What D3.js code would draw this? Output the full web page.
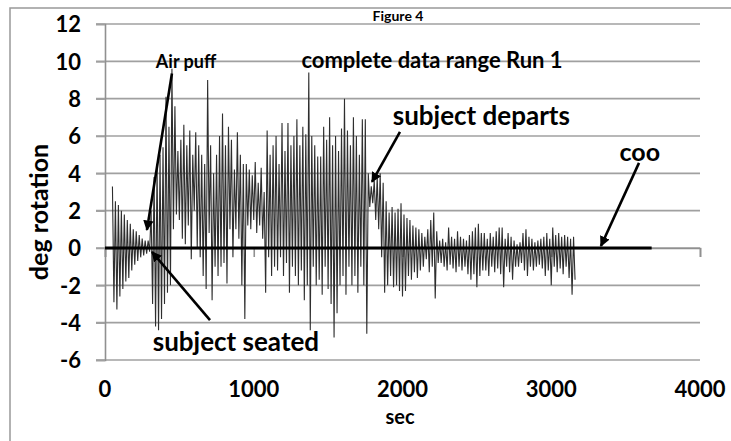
<!DOCTYPE html>
<html><head><meta charset="utf-8">
<script src="https://cdn.jsdelivr.net/npm/d3@7"></script>
<style>
html,body{margin:0;padding:0;background:#fff;}
svg text{font-family:Lato,"Open Sans",sans-serif;font-weight:bold;fill:#000;}
</style></head>
<body><svg id="c" width="731" height="441"></svg>
<script>
// ---- data ----
const yTicks = [-6,-4,-2,0,2,4,6,8,10,12];
const xTicks = [0,1000,2000,3000,4000];
const sampleStart = 50;   // sec of first sample
const sampleStep = 10;    // sec between samples
const rotation = [
 3.3,-2.9,2.5,-3.3,2.3,-2.6,2.0,-2.2,1.8,-1.8,
 1.5,-1.6,1.3,-1.2,1.0,-0.9,0.9,-0.7,0.7,-0.5,
 0.5,-0.4,0.4,-0.3,0.4,-0.2,2.0,-3.0,3.8,-4.2,
 4.5,-4.4,5.0,-3.8,5.4,-3.0,8.1,-2.4,6.5,-2.0,
 9.6,1.0,7.6,1.8,5.2,1.5,5.8,0.5,6.6,0.2,
 5.5,1.2,6.3,-0.6,5.0,2.0,6.2,0.0,5.5,-0.5,
 5.0,-1.5,4.5,-2.2,9.0,0.8,5.5,-2.8,4.0,-1.0,
 5.0,-1.5,6.0,-1.0,7.2,-0.8,5.5,-1.9,6.5,1.0,
 5.8,-0.5,4.2,1.0,6.2,0.5,5.0,-2.0,4.5,-3.8,
 4.5,1.2,4.2,1.0,3.9,1.5,4.6,0.8,3.5,1.2,
 4.3,0.5,3.0,-2.4,6.3,-0.5,5.0,-1.5,5.5,-1.0,
 6.0,-1.2,4.5,-0.5,6.7,-1.5,5.2,-0.8,6.7,-2.4,
 5.5,-1.0,6.0,-1.5,6.9,-2.0,5.5,-1.2,6.5,-2.8,
 6.1,-2.0,9.4,-4.4,6.0,-1.0,5.5,-2.0,4.9,-1.7,
 4.9,-2.5,6.5,-1.0,5.8,-2.2,7.0,-3.0,5.5,-4.8,
 6.0,-3.5,5.2,-2.0,6.4,-1.5,8.0,-2.5,6.3,-1.0,
 5.5,-2.0,7.0,-1.5,6.0,-2.4,5.0,-1.0,6.9,-2.0,
 6.9,-4.6,4.0,2.2,3.3,2.4,3.6,1.5,3.8,1.0,
 4.0,-0.5,3.5,-2.4,2.5,-2.0,1.9,-1.5,2.2,-2.1,
 1.9,-2.0,2.1,-2.3,2.4,-2.6,1.8,-2.3,1.6,-1.5,
 1.5,-1.7,1.2,-1.3,1.1,-1.6,1.0,-1.2,0.8,-1.0,
 0.6,-0.6,1.0,-1.3,1.5,-1.0,1.9,-2.7,0.9,-0.8,
 0.4,-0.8,0.5,-1.0,0.3,-1.2,1.1,-0.9,0.6,-1.1,
 0.5,-1.3,0.9,-1.0,0.6,-1.2,0.5,-1.0,0.4,-1.4,
 0.7,-1.7,0.9,-1.4,1.1,-2.1,1.3,-1.5,0.8,-1.2,
 0.8,-1.2,0.5,-1.5,0.8,-1.0,0.6,-1.3,0.9,-1.1,
 1.1,-1.4,1.1,-2.1,0.5,-1.0,0.8,-1.3,0.6,-1.7,
 0.4,-1.0,0.2,-1.0,0.3,-0.8,0.8,-1.2,1.0,-1.5,
 0.6,-1.0,0.5,-1.2,0.3,-1.0,0.4,-0.9,0.5,-1.1,
 0.6,-1.5,0.8,-1.2,0.5,-2.0,1.1,-1.0,0.7,-1.3,
 0.8,-1.1,0.6,-1.4,0.7,-1.0,0.6,-1.6,0.5,-2.5,
 0.6,-1.7
];
const cooSec = [0, 3675];
const cooVal = [0, 0];
const annotations = [
  {text:"Air puff", x:545, y:9.62, size:18, tail:[450,9.35], head:[282,0.97]},
  {text:"subject seated", x:880, y:-5.5, size:26, tail:[706,-3.86], head:[316,-0.21]},
  {text:"subject departs", x:2530, y:6.6, size:26, tail:[1983,6.22], head:[1795,3.54]},
  {text:"coo", x:3595, y:4.65, size:25, tail:[3590,4.56], head:[3334,0.11]}
];

// ---- chart ----
const svg = d3.select("#c");
const x = d3.scaleLinear().domain([0,4000]).range([105,700]);
const y = d3.scaleLinear().domain([-6,12]).range([360,24]);

// outer frame
svg.append("rect").attr("x",10).attr("y",8).attr("width",760).attr("height",480)
  .attr("fill","none").attr("stroke","#999").attr("stroke-width",1.5);

// gridlines
svg.append("g").selectAll("line").data(yTicks).join("line")
  .attr("x1",x(0)-9).attr("x2",x(4000)).attr("y1",d=>y(d)).attr("y2",d=>y(d))
  .attr("stroke","#a0a0a0").attr("stroke-width",1.6);

// y axis
const ya = svg.append("g").attr("transform",`translate(${x(0)},0)`)
  .call(d3.axisLeft(y).tickValues(yTicks).tickSize(9).tickPadding(15).tickFormat(d=>String(d)));
ya.select(".domain").attr("stroke","#909090").attr("stroke-width",1.6);
ya.selectAll(".tick line").attr("stroke","#a0a0a0").attr("stroke-width",1.6);
ya.selectAll("text").style("font-size","22px").attr("dy","0.36em");

// x axis at y=0
const xa = svg.append("g").attr("transform",`translate(0,${y(0)})`)
  .call(d3.axisBottom(x).tickValues(xTicks).tickSize(9).tickFormat(""));
xa.select(".domain").attr("stroke","#909090").attr("stroke-width",1.6);
xa.selectAll(".tick line").attr("stroke","#909090").attr("stroke-width",1.6);

svg.append("g").selectAll("text").data(xTicks).join("text")
  .attr("x",d=>x(d)).attr("y",397).attr("text-anchor","middle")
  .style("font-size","22px").text(d=>String(d));

// data line
const line = d3.line().x((d,i)=>x(sampleStart+i*sampleStep)).y(d=>y(d));
svg.append("path").datum(rotation).attr("d",line)
  .attr("fill","none").attr("stroke","#2e2e2e").attr("stroke-width",1.1);

// coo line
svg.append("path").datum(cooSec.map((s,i)=>[s,cooVal[i]]))
  .attr("d",d3.line().x(d=>x(d[0])).y(d=>y(d[1])))
  .attr("stroke","#000").attr("stroke-width",3).attr("fill","none");

// axis titles
svg.append("text").attr("x",400).attr("y",424).attr("text-anchor","middle")
  .style("font-size","20px").text("sec");
svg.append("text").attr("transform","translate(48,212) rotate(-90)").attr("text-anchor","middle")
  .style("font-size","25px").text("deg rotation");
svg.append("text").attr("x",398).attr("y",21).attr("text-anchor","middle")
  .style("font-size","14px").text("Figure 4");
svg.append("text").attr("x",432).attr("y",68).attr("text-anchor","middle")
  .style("font-size","22px").text("complete data range Run 1");

// arrows
svg.append("defs").append("marker").attr("id","ah").attr("viewBox","0 0 10 10")
  .attr("refX",9).attr("refY",5).attr("markerWidth",4).attr("markerHeight",4)
  .attr("orient","auto").attr("markerUnits","strokeWidth")
  .append("path").attr("d","M0,0L10,5L0,10z").attr("fill","#000");

svg.append("g").selectAll("line").data(annotations).join("line")
  .attr("x1",d=>x(d.tail[0])).attr("y1",d=>y(d.tail[1]))
  .attr("x2",d=>x(d.head[0])).attr("y2",d=>y(d.head[1]))
  .attr("stroke","#000").attr("stroke-width",2.6).attr("marker-end","url(#ah)");

svg.append("g").selectAll("text").data(annotations).join("text")
  .attr("x",d=>x(d.x)).attr("y",d=>y(d.y)).attr("text-anchor","middle")
  .style("font-size",d=>d.size+"px").text(d=>d.text);
</script></body></html>
